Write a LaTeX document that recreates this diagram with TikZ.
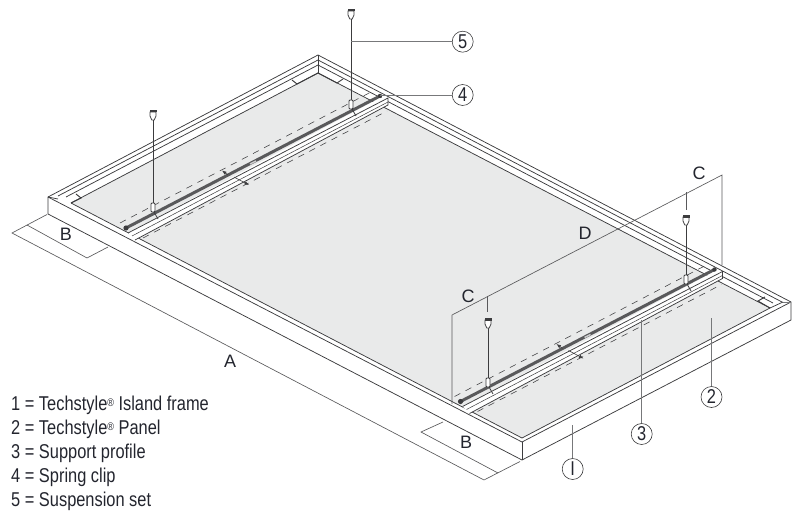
\documentclass[tikz,border=0pt]{standalone}
\usepackage{fontspec}
\setmainfont{Liberation Sans}
\newfontfamily\condfont[FakeStretch=0.82]{Liberation Sans}
\usetikzlibrary{arrows.meta}
\definecolor{panelgray}{HTML}{E9EAEA}
\definecolor{inkline}{HTML}{3C3C3E}
\definecolor{leadgray}{HTML}{77787A}
\definecolor{railgray}{HTML}{59595B}
\definecolor{textink}{HTML}{23252E}
\tikzset{
  frameline/.style = {draw=inkline, line width=0.75pt},
  dimline/.style = {draw=inkline!85, line width=0.65pt},
  leader/.style = {draw=leadgray, line width=0.9pt},
  callout/.style = {circle, draw=inkline, line width=0.6pt, minimum size=21pt, inner sep=0pt, text=textink, font=\condfont\fontsize{20}{22}\selectfont},
  dimlabel/.style = {text=textink, font=\fontsize{18}{20}\selectfont},
  legendline/.style = {anchor=base west, inner sep=0pt, text=textink, font=\condfont\fontsize{20}{22}\selectfont},
  dashline/.style = {draw=inkline, line width=0.55pt, dash pattern=on 6.5pt off 6pt},
}
\newcommand{\regmark}{\raisebox{4.5pt}{\fontsize{11}{11}\selectfont ®}}
\begin{document}
\begin{tikzpicture}[x=1pt, y=-1pt]
\useasboundingbox (0,0) rectangle (800,516);
% panel
\fill [panelgray] (71,203) -- (318,73) -- (770,308) -- (522,438) -- cycle;
% frame
\draw [frameline] (48,214) -- (522,460) -- (791,320) -- (791,302) -- (318,55) -- (48,197) -- cycle;
\draw [frameline] (48,197) -- (522,442) -- (791,302);
\draw [frameline] (522,442) -- (522,460);
\draw [frameline] (58,196) -- (318,60) -- (782,302);
\draw [frameline] (66,197) -- (318,65) -- (773,303);
\draw [frameline] (318,55) -- (318,73);
\draw [frameline] (48,197) -- (58,199);
\draw [frameline] (71,203) -- (318,73) -- (770,308) -- (783,302);
\draw [leader] (783,302) -- (791,302);
\draw [frameline] (71,203) -- (522,438) -- (770,308);
% corner marks
\draw [frameline, line width=0.95pt] (71,203) -- (81,198) -- (76,194);
\draw [frameline, line width=0.95pt] (318,73) -- (297,84) -- (292,80);
\draw [frameline, line width=0.95pt] (318,73) -- (337,83) -- (343,79);
\draw [frameline, line width=0.95pt] (770,308) -- (758,301) -- (765,297);
% rails
\foreach \dx/\dy in {0/0, 334.5/173.5} {
  \begin{scope}[shift={(\dx,\dy)}]
  \fill [white] (128,233) -- (380,98) -- (388,98) -- (388,105) -- (135,240) -- cycle;
  \draw [dashline] (120,223) -- (371,92);
  \draw [dashline] (143,238) -- (387,111);
  \draw [frameline] (128,233) -- (388,98) -- (388,105) -- (135,240);
  \draw [frameline, line width=0.5pt] (132,236) -- (388,102);
  \draw [railgray, line width=3pt] (126,228) -- (380,96);
  \draw [white!70!railgray, line width=1.5pt] (250,164) -- (256,161);
  \fill [inkline] (126,228) circle (2.6);
  \fill [inkline] (380,96) circle (2.2);
  \draw [inkline, line width=0.6pt, -{Latex[length=4.5pt,width=3.5pt]}] (228,175) -- (222,170.5);
  \draw [inkline, line width=0.6pt, -{Latex[length=4.5pt,width=3.5pt]}] (234,177) -- (249,185);
  \end{scope}
}
% suspension sets
\foreach \x/\ytop/\yclip in {351/9/100, 153/110/203, 488/318/378, 686/215/275} {
  \draw [inkline, line width=0.9pt] (\x,\ytop+10) -- (\x,\yclip);
  \draw [frameline, fill=white] (\x-3,\ytop+2) -- (\x+3,\ytop+2) -- (\x+3,\ytop+6) -- (\x+1.2,\ytop+10) -- (\x-1.2,\ytop+10) -- (\x-3,\ytop+6) -- cycle;
  \fill [inkline] (\x-3.5,\ytop) rectangle (\x+3.5,\ytop+2.5);
  \draw [frameline, fill=white, rounded corners=1pt] (\x-2,\yclip) rectangle (\x+2,\yclip+9);
  \draw [inkline, line width=0.8pt] (\x+1,\yclip+9) -- (\x+5,\yclip+16);
}
% dimensions
\coordinate (dimL) at (452,315);
\coordinate (dimR) at (722,175);
\draw [dimline] (452,404) -- (dimL) -- (dimR) -- (722,265);
\draw [dimline] (487,296) -- (487,312);
\draw [dimline] (686,192) -- (686,210);
\draw [dimline] (47,214.5) -- (12,233) -- (484,480) -- (520,461.5);
\draw [dimline] (27,225) -- (87,258) -- (108,247);
\draw [dimline] (443,422) -- (421,432) -- (498,473);
\node [dimlabel] (labA) at (230,361) {A};
\node [dimlabel] (labB1) at (66,234) {B};
\node [dimlabel] (labB2) at (466,442) {B};
\node [dimlabel] (labC1) at (468,296) {C};
\node [dimlabel] (labC2) at (699,173) {C};
\node [dimlabel] (labD) at (585,233) {D};
% callouts
\node [callout] (call1) at (572.7,469) {I};
\node [callout] (call2) at (711.5,397) {2};
\node [callout] (call3) at (641.7,434) {3};
\node [callout] (call4) at (462.7,95) {4};
\node [callout] (call5) at (462.7,41.7) {5};
\coordinate (end1) at (572.7,425);
\coordinate (end2) at (711.5,318);
\coordinate (end3) at (641.7,320);
\coordinate (end4) at (380,95);
\coordinate (end5) at (351,41.7);
\foreach \n in {1,...,5} {
  \draw [leader] (call\n) -- (end\n);
}
% legend
\node [legendline] (leg1) at (11,410.5) {1 = Techstyle\regmark{} Island frame};
\node [legendline] (leg2) at (11,434.5) {2 = Techstyle\regmark{} Panel};
\node [legendline] (leg3) at (11,458.5) {3 = Support profile};
\node [legendline] (leg4) at (11,482.5) {4 = Spring clip};
\node [legendline] (leg5) at (11,506.5) {5 = Suspension set};
\end{tikzpicture}
\end{document}
